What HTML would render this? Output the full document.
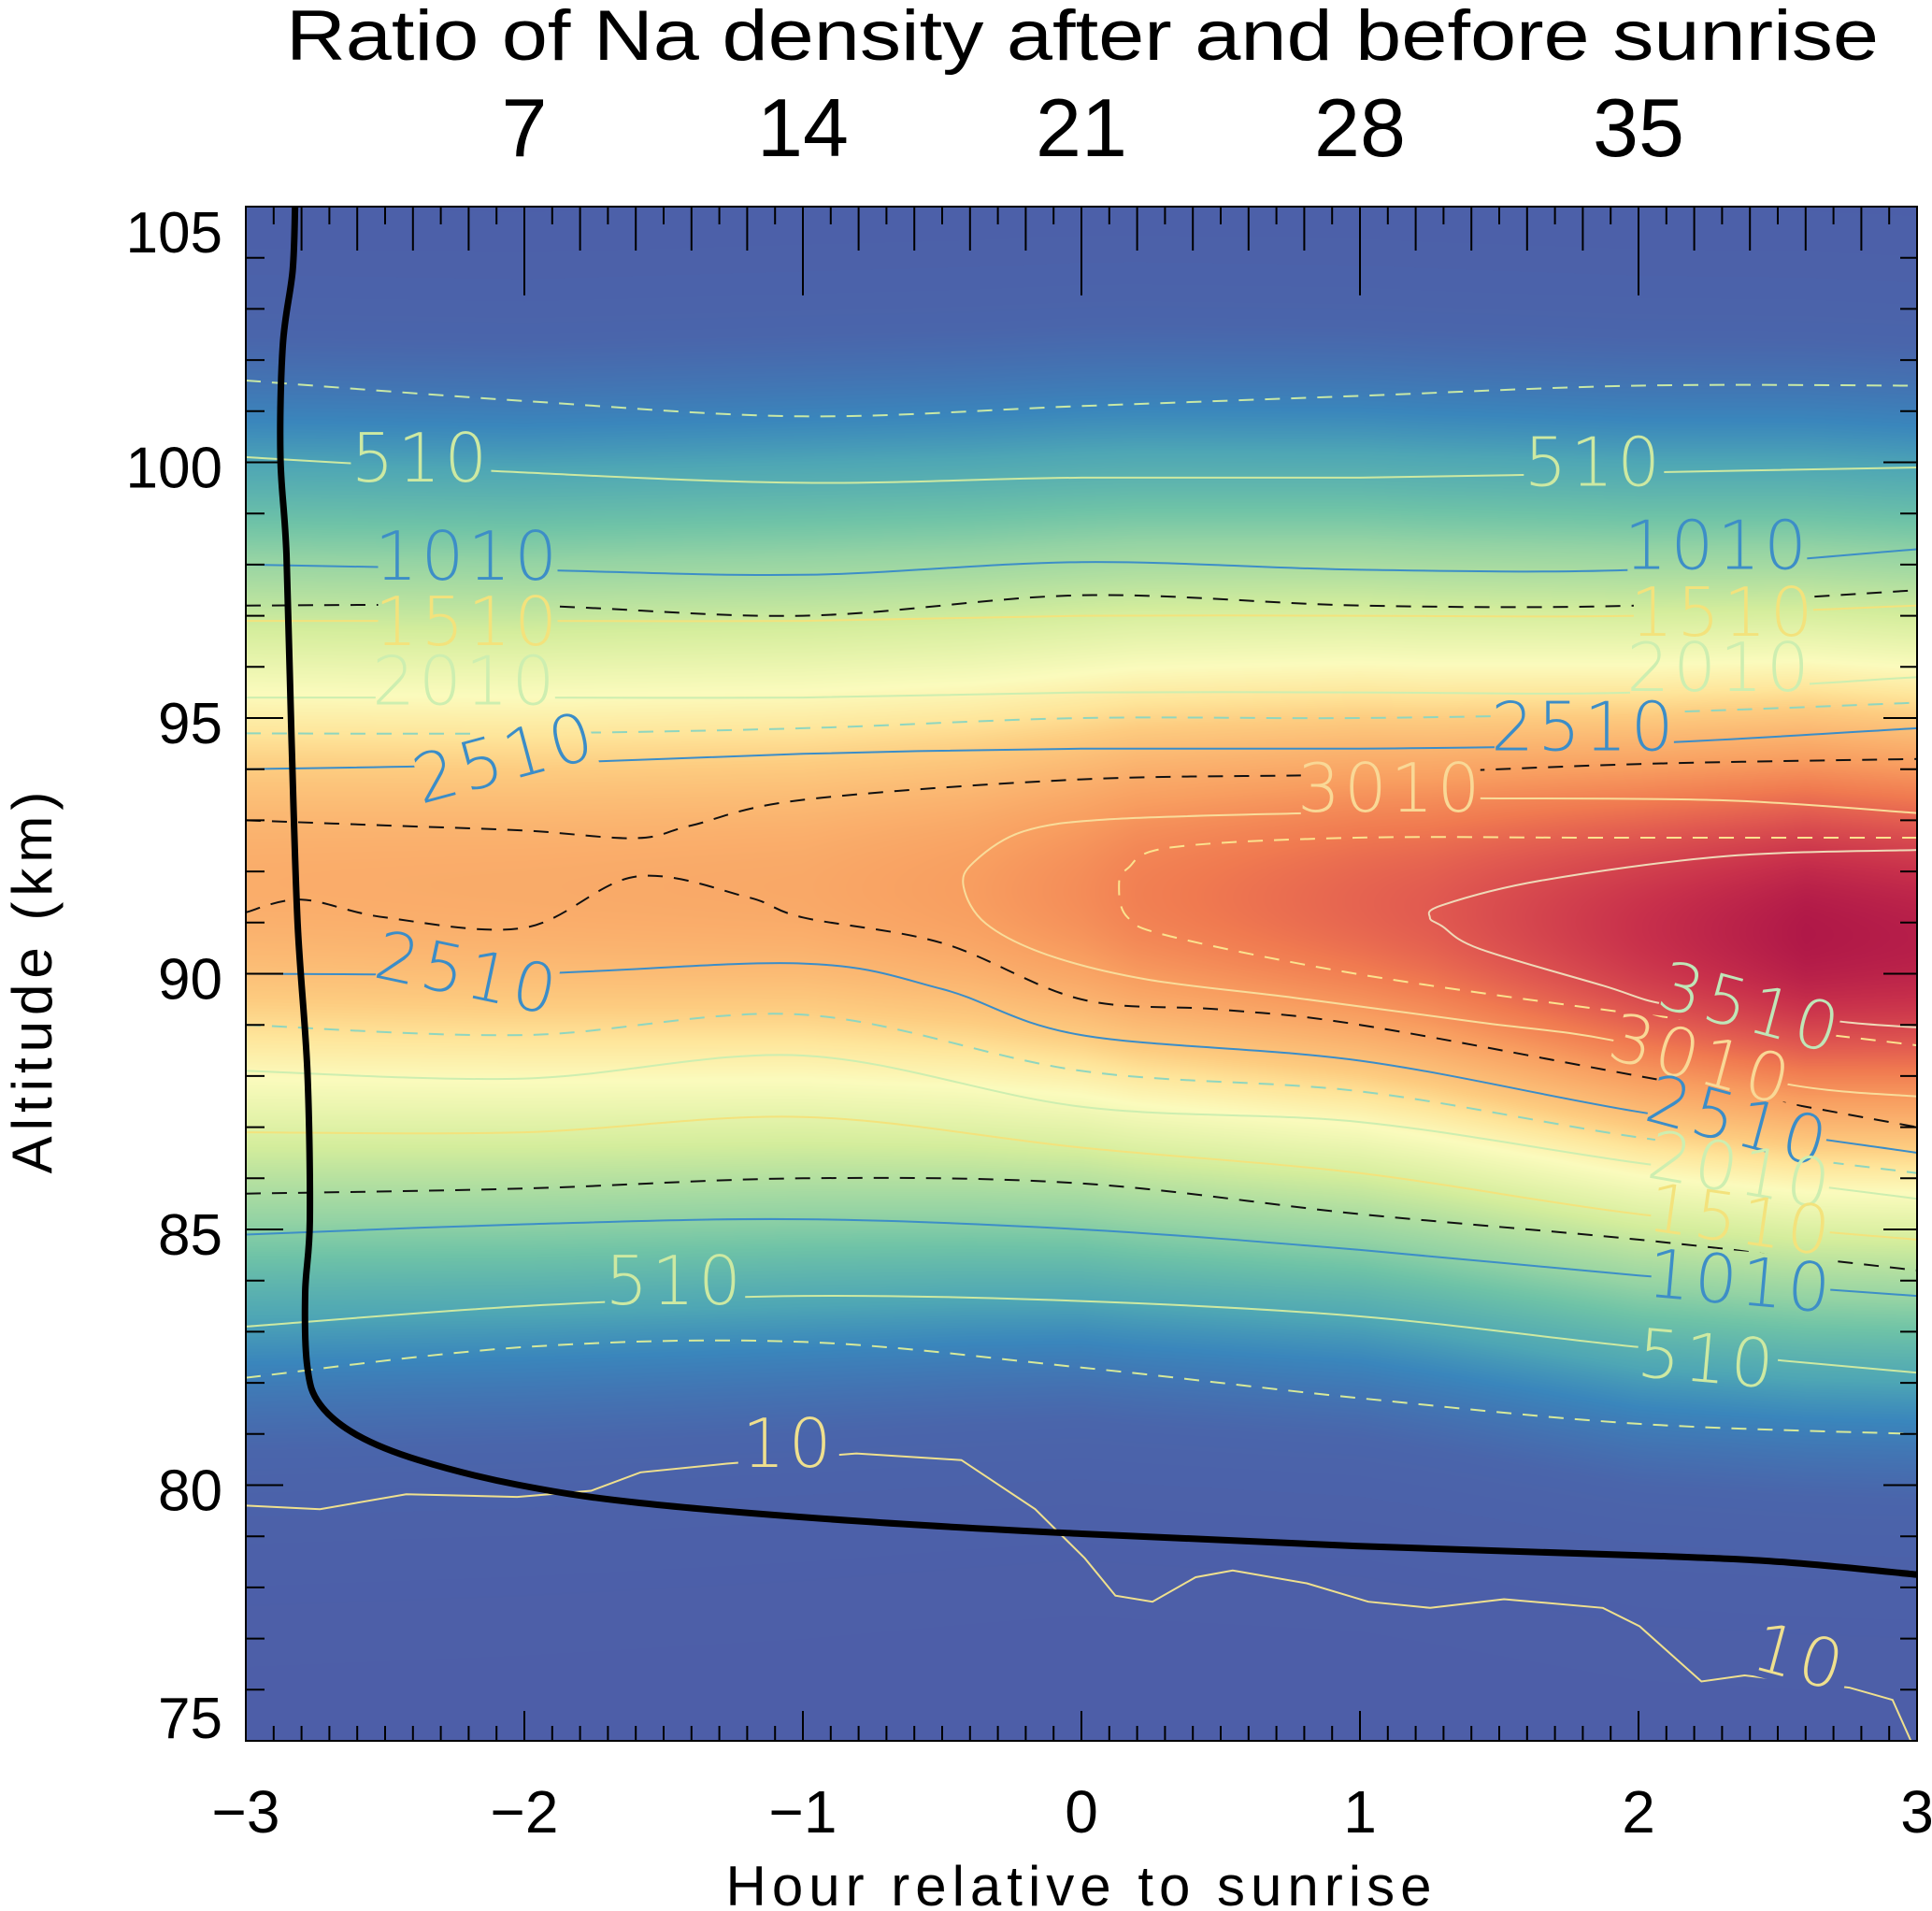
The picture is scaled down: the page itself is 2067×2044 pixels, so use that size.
<!DOCTYPE html>
<html><head><meta charset="utf-8">
<style>
html,body{margin:0;padding:0;background:#fff;}
#wrap{position:relative;width:2067px;height:2044px;overflow:hidden;font-family:"Liberation Sans",sans-serif;}
#heat{position:absolute;left:263px;top:221px;}
#ov{position:absolute;left:0;top:0;}
</style></head>
<body>
<div id="wrap">
<canvas id="heat" width="1788" height="1641"></canvas>
<svg id="ov" width="2067" height="2044" xmlns="http://www.w3.org/2000/svg"></svg>
</div>
<script>
// ---- data (hour relative to sunrise, altitude km, density) ----
const profHours   = [-3, -2, -1, -0.4, 0, 0.2, 1.25, 2, 2.6, 3];
const profPeak    = [2850, 2870, 2900, 3010, 3150, 3250, 3510, 3800, 4000, 3950];
const peakAltH    = [-3, -2, -1, 0, 1, 2, 3];
const peakAlt     = [91.8, 91.7, 91.7, 91.6, 91.4, 90.9, 90.7];
const sigUpper    = [4.4, 4.4, 4.45, 4.5, 4.5, 4.55, 4.55];
const sigLower    = [4.6, 4.5, 4.4, 4.2, 4.2, 4.3, 4.3];
const cmapVals    = [0, 150, 350, 510, 800, 1010, 1510, 2010, 2300, 2510, 3010, 3300, 3510, 3800, 4000];
const cmapCols    = ["#4d5ea8","#4a65ab","#3a86bc","#4ea6b5","#6fc3a7","#94d3a4","#d4ed9c","#fbfbbd","#fee59a","#fdcc80","#f89e60","#f07a50","#e15a50","#c8304b","#b01848"];

const H7 = [-3, -2, -1, 0, 1, 2, 3];
const dashTopAlt  = [101.6, 101.2, 100.9, 101.1, 101.3, 101.5, 101.5];
const c510uAlt    = [100.1, 99.8, 99.6, 99.7, 99.7, 99.8, 99.9];
const c1010uAlt   = [98.0, 97.9, 97.8, 98.05, 97.9, 97.9, 98.3];
const blackUAlt   = [97.2, 97.2, 97.0, 97.4, 97.2, 97.2, 97.5];
const c1510uAlt   = [96.9, 96.9, 96.9, 97.0, 97.0, 97.0, 97.2];
const c2010uAlt   = [95.4, 95.4, 95.4, 95.5, 95.5, 95.5, 95.8];
const cyanUAlt    = [94.7, 94.7, 94.8, 95.0, 95.0, 95.1, 95.3];
const c2510uAlt   = [94.0, 94.1, 94.3, 94.4, 94.4, 94.5, 94.8];
const blackMH     = [-3, -2.5, -2, -1.6, -1.4, -1, 0, 1, 2, 3];
const blackMAlt   = [93.0, 92.9, 92.8, 92.65, 92.9, 93.4, 93.8, 93.9, 94.1, 94.2];
const blackLH     = [-3, -2.8, -2.5, -2, -1.6, -1.2, -1, -0.5, 0, 0.5, 1, 2, 3];
const blackLAlt   = [91.2, 91.45, 91.1, 90.9, 91.9, 91.5, 91.1, 90.6, 89.5, 89.3, 89.0, 88.0, 87.0];
const c2510lH     = [-3, -2, -1, -0.5, 0, 1, 2, 3];
const c2510lAlt   = [90.0, 90.0, 90.2, 89.7, 88.8, 88.3, 87.3, 86.5];
const cyanLAlt    = [89.0, 88.8, 89.2, 88.1, 87.7, 86.8, 86.1];
const c2010lAlt   = [88.1, 87.95, 88.4, 87.4, 87.1, 86.3, 85.6];
const c1510lAlt   = [86.9, 86.9, 87.2, 86.6, 86.1, 85.3, 84.8];
const blackLLAlt  = [85.7, 85.8, 86.0, 85.9, 85.3, 84.8, 84.2];
const c1010lAlt   = [84.9, 85.1, 85.2, 85.0, 84.6, 84.1, 83.7];
const c510lAlt    = [83.1, 83.5, 83.7, 83.6, 83.3, 82.7, 82.2];
const dashLowAlt  = [82.1, 82.7, 82.8, 82.3, 81.7, 81.2, 81.0];
const c3010H      = [0.808, 0.100, -0.21, -0.387, -0.423, -0.343, -0.122, 0.233, 0.764, 1.428, 1.915, 2.535, 3];
const c3010Alt    = [93.14, 93.02, 92.78, 92.18, 91.70, 90.98, 90.37, 89.89, 89.53, 89.05, 88.69, 87.84, 87.6];
const c3010bH     = [1.428, 2.314, 3];
const c3010bAlt   = [93.43, 93.39, 93.14];
const dashTongueH = [3, 1.871, 0.985, 0.321, 0.166, 0.135, 0.166, 0.321, 0.985, 1.871, 2.535, 3];
const dashTongueA = [92.66, 92.66, 92.66, 92.47, 92.06, 91.70, 91.10, 90.73, 90.0, 89.3, 88.9, 88.6];
const c3510H      = [3, 2.314, 1.649, 1.295, 1.251, 1.295, 1.428, 1.871, 2.092, 2.4, 2.75, 3];
const c3510Alt    = [92.42, 92.30, 91.82, 91.34, 91.10, 90.93, 90.49, 89.77, 89.41, 89.3, 89.05, 88.95];
const c10H        = [-3, -2.734, -2.424, -2.026, -1.76, -1.583, -1.273, -0.808, -0.431, -0.166, 0.012, 0.122, 0.255, 0.41, 0.543, 0.809, 1.03, 1.252, 1.517, 1.872, 2.004, 2.226, 2.381, 2.757, 2.912, 2.978];
const c10Alt      = [79.6, 79.53, 79.82, 79.77, 79.89, 80.25, 80.42, 80.62, 80.49, 79.53, 78.57, 77.84, 77.72, 78.2, 78.33, 78.08, 77.72, 77.6, 77.77, 77.6, 77.24, 76.16, 76.28, 76.04, 75.8, 75.0];
const sunH        = [-2.823, -2.832, -2.867, -2.876, -2.854, -2.836, -2.814, -2.779, -2.77, -2.787, -2.779, -2.734, -2.601, -2.38, -2.026, -1.583, -0.786, 0, 0.986, 2.093, 2.536, 3];
const sunAlt      = [105, 103.75, 102.3, 100.13, 98.2, 94.59, 90.98, 88.08, 85.19, 83.75, 82.3, 81.58, 80.98, 80.49, 80.01, 79.65, 79.29, 79.05, 78.81, 78.61, 78.49, 78.25];
const labelText   = ["510","510","1010","1010","1510","1510","2010","2010","2510","2510","3010","2510","3510","3010","2510","2010","1510","1010","510","510","10","10"];
const labelH      = [-2.371, 1.84, -2.203, 2.283, -2.203, 2.305, -2.212, 2.292, -2.07, 1.805, 1.11, -2.203, 2.403, 2.226, 2.359, 2.368, 2.368, 2.368, -1.459, 2.248, -1.051, 2.58];
const labelAlt    = [100.08, 100.0, 98.16, 98.37, 96.88, 97.07, 95.72, 95.99, 94.23, 94.83, 93.63, 90.01, 89.34, 88.33, 87.12, 86.16, 85.19, 83.99, 83.99, 82.47, 80.81, 76.64];
const labelRot    = [0, 0, 0, 0, 0, 0, 0, 0, -15, 0, 0, 12, 15, 15, 15, 10, 8, 5, 0, 5, 0, 15];
const xTickVals   = [-3, -2, -1, 0, 1, 2, 3];
const xTickLabels = ["\u22123", "\u22122", "\u22121", "0", "1", "2", "3"];
const yTickVals   = [75, 80, 85, 90, 95, 100, 105];
const topTickVals = [7, 14, 21, 28, 35];

// ---- axes ----
const PL = 263, PT = 221, PW = 1788, PH = 1641;
const X = h => PL + (h + 3) / 6 * PW;
const Y = a => PT + (105 - a) / 30 * PH;
const XR = r => X(r / 7 - 3);

function interp(xs, ys, x) {
  if (x <= xs[0]) return ys[0];
  for (let i = 1; i < xs.length; i++) if (x <= xs[i]) { const t = (x - xs[i-1]) / (xs[i] - xs[i-1]); return ys[i-1] + t * (ys[i] - ys[i-1]); }
  return ys[ys.length - 1];
}
const cmapRGB = cmapCols.map(c => [parseInt(c.slice(1,3),16), parseInt(c.slice(3,5),16), parseInt(c.slice(5,7),16)]);
function cmap(v) {
  v = Math.max(0, Math.min(4000, v));
  let i = 1; while (i < cmapVals.length - 1 && v > cmapVals[i]) i++;
  const t = (v - cmapVals[i-1]) / (cmapVals[i] - cmapVals[i-1]);
  const a = cmapRGB[i-1], b = cmapRGB[i];
  return [a[0]+(b[0]-a[0])*t, a[1]+(b[1]-a[1])*t, a[2]+(b[2]-a[2])*t];
}

// ---- heatmap ----
const cv = document.getElementById('heat'), ctx = cv.getContext('2d');
const img = ctx.createImageData(PW, PH);
for (let px = 0; px < PW; px++) {
  const h = -3 + (px + 0.5) / PW * 6;
  const P = interp(profHours, profPeak, h), z0 = interp(peakAltH, peakAlt, h);
  const su = interp(H7, sigUpper, h), sl = interp(H7, sigLower, h);
  for (let py = 0; py < PH; py++) {
    const z = 105 - (py + 0.5) / PH * 30;
    const s = z > z0 ? su : sl;
    const v = P * Math.exp(-(z - z0) * (z - z0) / (2 * s * s));
    const c = cmap(v), k = (py * PW + px) * 4;
    img.data[k] = c[0]; img.data[k+1] = c[1]; img.data[k+2] = c[2]; img.data[k+3] = 255;
  }
}
ctx.putImageData(img, 0, 0);

// ---- svg overlay ----
const NS = 'http://www.w3.org/2000/svg';
const svg = document.getElementById('ov');
function mk(tag, attrs, parent) {
  const e = document.createElementNS(NS, tag);
  for (const k in attrs) e.setAttribute(k, attrs[k]);
  (parent || svg).appendChild(e); return e;
}
function smoothPath(hs, as) {
  const p = hs.map((h, i) => [X(h), Y(as[i])]);
  let d = 'M' + p[0][0].toFixed(1) + ' ' + p[0][1].toFixed(1);
  for (let i = 0; i < p.length - 1; i++) {
    const p0 = p[Math.max(0, i-1)], p1 = p[i], p2 = p[i+1], p3 = p[Math.min(p.length-1, i+2)];
    const c1 = [p1[0] + (p2[0]-p0[0])/6, p1[1] + (p2[1]-p0[1])/6];
    const c2 = [p2[0] - (p3[0]-p1[0])/6, p2[1] - (p3[1]-p1[1])/6];
    d += ' C' + c1[0].toFixed(1) + ' ' + c1[1].toFixed(1) + ' ' + c2[0].toFixed(1) + ' ' + c2[1].toFixed(1) + ' ' + p2[0].toFixed(1) + ' ' + p2[1].toFixed(1);
  }
  return d;
}
function linePath(hs, as) { return hs.map((h, i) => (i ? 'L' : 'M') + X(h).toFixed(1) + ' ' + Y(as[i]).toFixed(1)).join(' '); }

const defs = mk('defs', {});
const clip = mk('clipPath', {id: 'plotclip'}, defs);
mk('rect', {x: PL, y: PT, width: PW, height: PH}, clip);
const mask = mk('mask', {id: 'lblmask', maskUnits: 'userSpaceOnUse', x: 0, y: 0, width: 2067, height: 2044}, defs);
mk('rect', {x: 0, y: 0, width: 2067, height: 2044, fill: '#fff'}, mask);
labelText.forEach((t, i) => {
  const w = t.length * 42 + 24;
  mk('rect', {x: X(labelH[i]) - w/2, y: Y(labelAlt[i]) - 32, width: w, height: 64, fill: '#000', transform: `rotate(${labelRot[i]} ${X(labelH[i])} ${Y(labelAlt[i])})`}, mask);
});

const cg = mk('g', {'clip-path': 'url(#plotclip)'});


const lines = mk('g', {mask: 'url(#lblmask)', fill: 'none', 'stroke-width': 2}, cg);
const DASH = '16 12';
function contour(name, hs, as, color, dash, smooth) {
  const p = mk('path', {d: smooth === false ? linePath(hs, as) : smoothPath(hs, as), stroke: color}, lines);
  if (dash) p.setAttribute('stroke-dasharray', DASH);
  
  
}
contour('contour-dashed-top', H7, dashTopAlt, '#c8e8a6', true);
contour('contour-510-upper', H7, c510uAlt, '#cde9a2');
contour('contour-1010-upper', H7, c1010uAlt, '#3d8ec7');
contour('contour-dashed-black-upper', H7, blackUAlt, '#111', true);
contour('contour-1510-upper', H7, c1510uAlt, '#f3e27c');
contour('contour-2010-upper', H7, c2010uAlt, '#cdeeb0');
contour('contour-dashed-cyan-upper', H7, cyanUAlt, '#8fd6bf', true);
contour('contour-2510-upper', H7, c2510uAlt, '#3b8dc8');
contour('contour-dashed-black-mid', blackMH, blackMAlt, '#111', true);
contour('contour-3010', c3010H, c3010Alt, '#f9dc9a');
contour('contour-3010-upper-branch', c3010bH, c3010bAlt, '#f9dc9a');
contour('contour-dashed-tongue', dashTongueH, dashTongueA, '#fbe28e', true);
contour('contour-3510', c3510H, c3510Alt, '#efd9b8');
contour('contour-dashed-black-lower', blackLH, blackLAlt, '#111', true);
contour('contour-2510-lower', c2510lH, c2510lAlt, '#3b8dc8');
contour('contour-dashed-cyan-lower', H7, cyanLAlt, '#8fd6bf', true);
contour('contour-2010-lower', H7, c2010lAlt, '#cdeeb0');
contour('contour-1510-lower', H7, c1510lAlt, '#f3e27c');
contour('contour-dashed-black-low', H7, blackLLAlt, '#111', true);
contour('contour-1010-lower', H7, c1010lAlt, '#3d8ec7');
contour('contour-510-lower', H7, c510lAlt, '#cde9a2');
contour('contour-dashed-low', H7, dashLowAlt, '#d6e99a', true);
contour('contour-10', c10H, c10Alt, '#efe08e', false, false);

const labelColor = {"510": "#cde9a2", "1010": "#3d8ec7", "1510": "#f3e27c", "2010": "#cdeeb0", "2510": "#3b8dc8", "3010": "#f9d896", "3510": "#bfe6b8", "10": "#efe08e"};
labelText.forEach((t, i) => {
  const e = mk('text', {x: X(labelH[i]), y: Y(labelAlt[i]) + 25, 'text-anchor': 'middle', 'font-size': 72, fill: labelColor[t], 'letter-spacing': 4, transform: `rotate(${labelRot[i]} ${X(labelH[i])} ${Y(labelAlt[i])})`, 'font-family': '"DejaVu Sans","Liberation Sans",sans-serif', 'font-weight': 200}, cg);
  e.textContent = t;
  
  
});

const sun = mk('path', {d: smoothPath(sunH, sunAlt), stroke: '#000', 'stroke-width': 7, fill: 'none'}, cg);



const frame = mk('rect', {x: PL, y: PT, width: PW, height: PH, fill: 'none', stroke: '#000', 'stroke-width': 2});



const tg = mk('g', {stroke: '#000', 'stroke-width': 2});


for (let i = 0; i <= 60; i++) {
  const x = X(-3 + i * 0.1), len = i % 10 === 0 ? 32 : 16;
  mk('line', {x1: x, y1: PT + PH, x2: x, y2: PT + PH - len}, tg);
}
for (let i = 0; i <= 60; i++) {
  const x = X(-3 + i * 0.1), len = i % 10 === 0 ? 0 : (i % 2 === 0 ? 47 : 19);
  if (len) mk('line', {x1: x, y1: PT, x2: x, y2: PT + len}, tg);
}
topTickVals.forEach(r => mk('line', {x1: XR(r), y1: PT, x2: XR(r), y2: PT + 95}, tg));
for (let a = 75; a <= 105; a++) {
  const y = Y(a), len = a % 5 === 0 ? 40 : 20;
  mk('line', {x1: PL, y1: y, x2: PL + len, y2: y}, tg);
  mk('line', {x1: PL + PW, y1: y, x2: PL + PW - (a % 5 === 0 ? 36 : 18), y2: y}, tg);
}

const tl = mk('g', {'font-family': '"Liberation Sans",sans-serif', fill: '#000'});


xTickVals.forEach((v, i) => {
  const e = mk('text', {x: X(v), y: 1960, 'text-anchor': 'middle', 'font-size': 64}, tl);
  e.textContent = xTickLabels[i];
  
  
});
yTickVals.forEach(v => {
  const cy = Math.max(PT + 26, Math.min(PT + PH - 26, Y(v) + 4));
  const e = mk('text', {x: 238, y: cy + 23, 'text-anchor': 'end', 'font-size': 62}, tl);
  e.textContent = String(v);
  
  
});
topTickVals.forEach(v => {
  const e = mk('text', {x: XR(v), y: 167, 'text-anchor': 'middle', 'font-size': 88}, tl);
  e.textContent = String(v);
  
  
});

const t1 = mk('text', {x: 306, y: 64, 'font-size': 76, textLength: 1704, lengthAdjust: 'spacingAndGlyphs', 'font-family': '"Liberation Sans",sans-serif'});
t1.textContent = 'Ratio of Na density after and before sunrise';


const t2 = mk('text', {x: X(0), y: 2038, 'text-anchor': 'middle', 'font-size': 60, 'letter-spacing': 6, 'font-family': '"Liberation Sans",sans-serif'});
t2.textContent = 'Hour relative to sunrise';


const t3 = mk('text', {x: 0, y: 0, 'text-anchor': 'middle', 'font-size': 60, 'letter-spacing': 6, transform: 'translate(55 1048) rotate(-90)', 'font-family': '"Liberation Sans",sans-serif'});
t3.textContent = 'Altitude (km)';


</script>
</body></html>
